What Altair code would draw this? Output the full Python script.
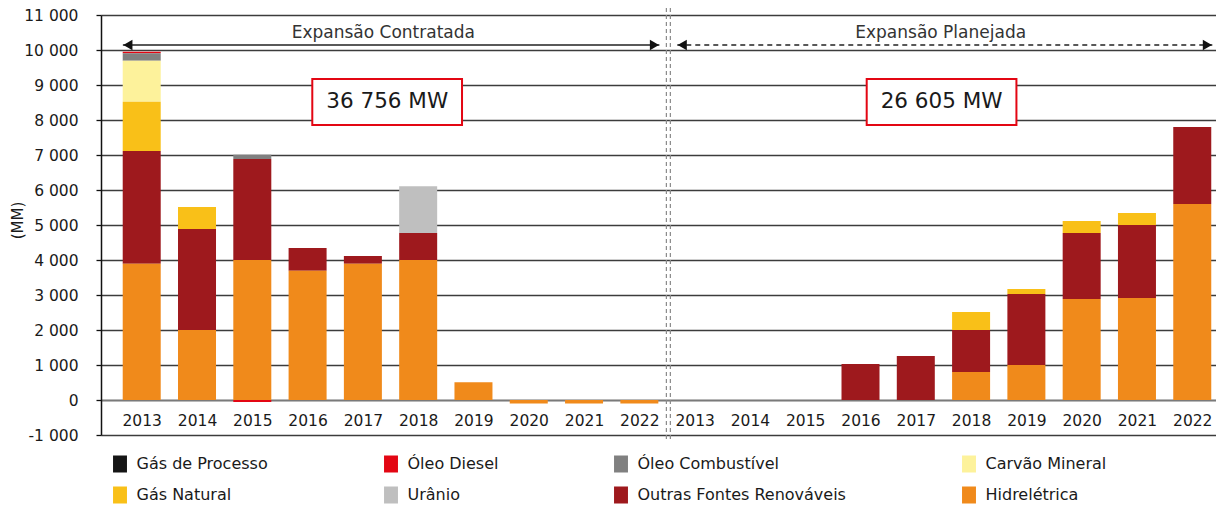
import altair as alt
import pandas as pd

# ---------------- data ----------------
years = [2013, 2014, 2015, 2016, 2017, 2018, 2019, 2020, 2021, 2022]
sections = ["Expansão Contratada", "Expansão Planejada"]
section_totals = ["36 756 MW", "26 605 MW"]

sources = ["Gás de Processo", "Óleo Diesel", "Óleo Combustível", "Carvão Mineral",
           "Gás Natural", "Urânio", "Outras Fontes Renováveis", "Hidrelétrica"]
colors = ["#151515", "#e30613", "#808080", "#fdf29b",
          "#f9c018", "#bfbfbf", "#9e191d", "#f08a1b"]

# Expansão Contratada (MW)
hidro_c = [3890, 2000, 4000, 3690, 3890, 4000, 510, -100, -100, -100]
outras_c = [3225, 2885, 2885, 655, 225, 770, 0, 0, 0, 0]
uranio_c = [0, 0, 0, 0, 0, 1340, 0, 0, 0, 0]
gasnat_c = [1410, 630, 0, 0, 0, 0, 0, 0, 0, 0]
carvao_c = [1165, 0, 0, 0, 0, 0, 0, 0, 0, 0]
oleocomb_c = [220, 0, 120, 0, 0, 0, 0, 0, 0, 0]
diesel_c = [40, 0, -60, 0, 0, 0, 0, 0, 0, 0]
gasproc_c = [0, 0, 0, 0, 0, 0, 0, 0, 0, 0]

# Expansão Planejada (MW)
hidro_p = [0, 0, 0, 0, 0, 800, 1000, 2885, 2915, 5600]
outras_p = [0, 0, 0, 1030, 1255, 1200, 2030, 1885, 2085, 2200]
uranio_p = [0, 0, 0, 0, 0, 0, 0, 0, 0, 0]
gasnat_p = [0, 0, 0, 0, 0, 515, 140, 345, 345, 0]
carvao_p = [0, 0, 0, 0, 0, 0, 0, 0, 0, 0]
oleocomb_p = [0, 0, 0, 0, 0, 0, 0, 0, 0, 0]
diesel_p = [0, 0, 0, 0, 0, 0, 0, 0, 0, 0]
gasproc_p = [0, 0, 0, 0, 0, 0, 0, 0, 0, 0]

series_c = [gasproc_c, diesel_c, oleocomb_c, carvao_c, gasnat_c, uranio_c, outras_c, hidro_c]
series_p = [gasproc_p, diesel_p, oleocomb_p, carvao_p, gasnat_p, uranio_p, outras_p, hidro_p]

rows = []
for s_i, series_set in enumerate([series_c, series_p]):
    for src_i, (src, vals) in enumerate(zip(sources, series_set)):
        for y_i, v in enumerate(vals):
            if v != 0:
                rows.append({"idx": s_i * 10 + y_i, "ano": years[y_i], "fonte": src,
                             "valor": v, "ord": len(sources) - src_i})
df = pd.DataFrame(rows)

FONT = "DejaVu Sans"
TXT = "#1a1a1a"

xscale = alt.Scale(domain=[-0.646, 19.339], nice=False, zero=False)
yscale = alt.Scale(domain=[-1000, 11000], nice=False, zero=False)

xaxis = alt.Axis(values=list(range(20)),
                 labelExpr="toString(2013 + datum.value % 10)",
                 grid=False, ticks=False, tickSize=0, domain=True,
                 domainColor="#7a7a7a", domainWidth=1.5, offset=-35,
                 labelPadding=13, labelFontSize=15.5, labelFont=FONT,
                 labelColor=TXT, labelFlush=False, labelOverlap=False,
                 title=None)
yaxis = alt.Axis(values=list(range(-1000, 11001, 1000)),
                 labelExpr="(datum.value < 0 ? '-' : '') + replace(format(abs(datum.value), ','), ',', ' ')",
                 grid=True, gridColor="#3c3c3c", gridWidth=1.4,
                 domain=True, domainColor="#111111", domainWidth=1.5,
                 ticks=True, tickColor="#111111", tickSize=5, tickWidth=1.3,
                 labelPadding=18, labelFontSize=15.5, labelFont=FONT,
                 labelColor=TXT, labelFlush=False, labelOverlap=False,
                 title="(MM)", titleFont=FONT, titleFontSize=15,
                 titleFontWeight="normal", titleColor=TXT,
                 titleAngle=270, titleX=-84, titleY=205,
                 titleAlign="center", titleBaseline="middle")


def X(field):
    return alt.X(field, scale=xscale, axis=xaxis)


def Y(field, **kw):
    return alt.Y(field, scale=yscale, axis=yaxis, **kw)


bars = alt.Chart(df).mark_bar(size=38).encode(
    x=X("idx:Q"),
    y=Y("valor:Q", stack="zero"),
    color=alt.Color("fonte:N", scale=alt.Scale(domain=sources, range=colors),
                    legend=alt.Legend(orient="none", legendX=10.5, legendY=440.5,
                                      direction="horizontal", columns=4,
                                      columnPadding=114, rowPadding=14,
                                      symbolType="M-0.82,-1H0.82V1H-0.82Z",
                                      symbolSize=289, symbolStrokeWidth=0,
                                      symbolOpacity=1,
                                      labelFontSize=16, labelFont=FONT,
                                      labelColor=TXT, labelOffset=8,
                                      labelLimit=400, padding=0, title=None)),
    order=alt.Order("ord:Q", sort="ascending"),
)

# ---------- decorations (in data coordinates) ----------
div_df = pd.DataFrame({"idx": [9.489, 9.561], "valor": [11200, 11200], "y2": [-1200, -1200]})
divider = alt.Chart(div_df).mark_rule(color="#8a8a8a", strokeWidth=1.2, strokeDash=[4, 3]).encode(
    x=X("idx:Q"), y=Y("valor:Q"), y2="y2:Q")

arrow_y = 10140
solid_df = pd.DataFrame({"idx": [-0.341], "x2": [9.363], "valor": [arrow_y]})
dash_df = pd.DataFrame({"idx": [9.686], "x2": [19.363], "valor": [arrow_y]})
solid_line = alt.Chart(solid_df).mark_rule(color="#222222", strokeWidth=1.5).encode(
    x=X("idx:Q"), x2="x2:Q", y=Y("valor:Q"))
dash_line = alt.Chart(dash_df).mark_rule(color="#222222", strokeWidth=1.5, strokeDash=[5, 4]).encode(
    x=X("idx:Q"), x2="x2:Q", y=Y("valor:Q"))

head_l = pd.DataFrame({"idx": [-0.25, 9.776], "valor": [arrow_y, arrow_y]})
head_r = pd.DataFrame({"idx": [9.273, 19.273], "valor": [arrow_y, arrow_y]})
heads_left = alt.Chart(head_l).mark_point(shape="triangle-left", filled=True, size=110,
                                          color="#111111", opacity=1).encode(
    x=X("idx:Q"), y=Y("valor:Q"))
heads_right = alt.Chart(head_r).mark_point(shape="triangle-right", filled=True, size=110,
                                           color="#111111", opacity=1).encode(
    x=X("idx:Q"), y=Y("valor:Q"))

sec_df = pd.DataFrame({"idx": [4.37, 14.45], "valor": [10486, 10486], "t": sections})
sec_text = alt.Chart(sec_df).mark_text(font=FONT, fontSize=17, color="#333333",
                                       align="center", baseline="middle").encode(
    x=X("idx:Q"), y=Y("valor:Q"), text="t:N")

box_df = pd.DataFrame({"idx": [3.085, 13.112], "x2": [5.793, 15.82],
                       "valor": [9171, 9171], "y2": [7857, 7857]})
boxes = alt.Chart(box_df).mark_rect(fill="white", stroke="#e30613", strokeWidth=2).encode(
    x=X("idx:Q"), x2="x2:Q", y=Y("valor:Q"), y2="y2:Q")

tot_df = pd.DataFrame({"idx": [4.44, 14.466], "valor": [8514, 8514], "t": section_totals})
tot_text = alt.Chart(tot_df).mark_text(font=FONT, fontSize=21.5, color=TXT,
                                       align="center", baseline="middle").encode(
    x=X("idx:Q"), y=Y("valor:Q"), text="t:N")

chart = alt.layer(
    bars, boxes, tot_text, solid_line, dash_line, heads_left, heads_right, sec_text, divider
).properties(
    width=1115, height=420,
    autosize=alt.AutoSizeParams(type="none"),
    padding={"left": 93, "top": 7, "right": 0, "bottom": 71},
).configure(font=FONT).configure_view(stroke=None)

chart.save("out.html", embed_options={"renderer": "svg", "actions": False})
